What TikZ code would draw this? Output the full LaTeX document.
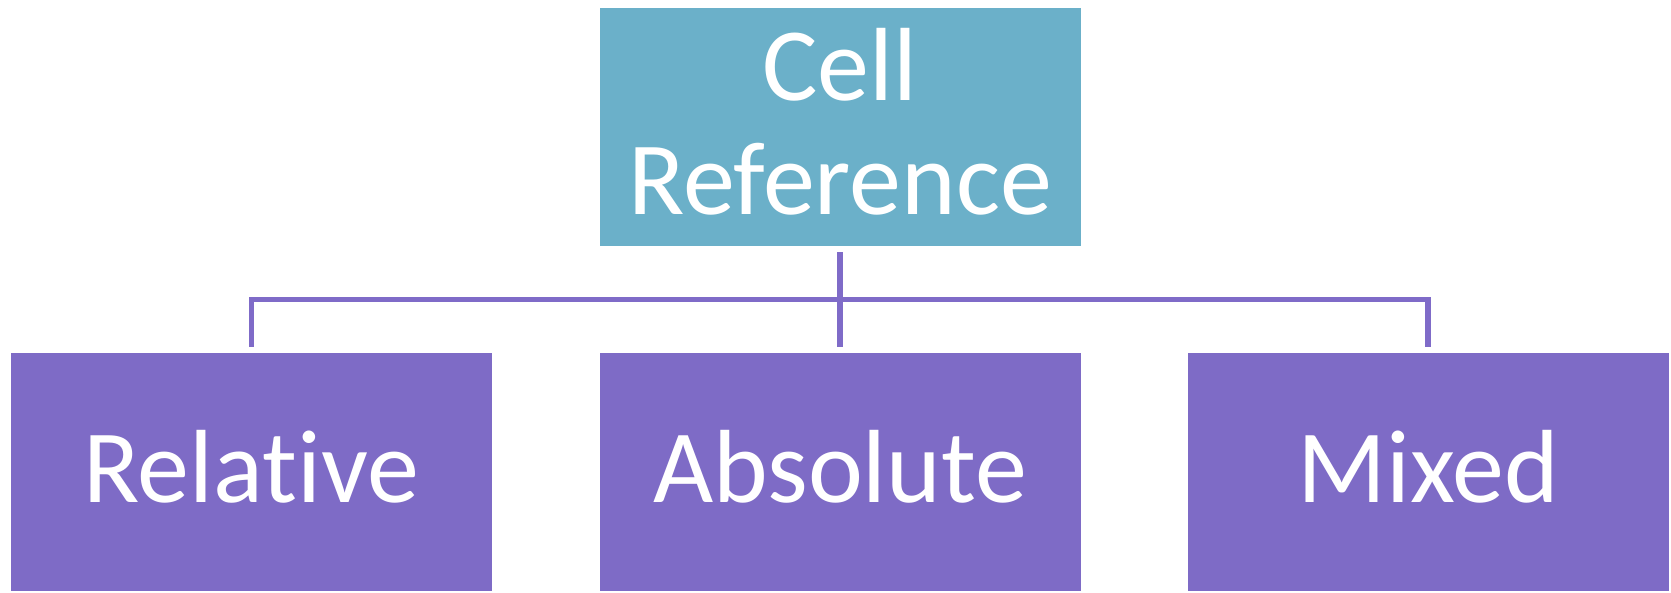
\documentclass[tikz,border=0pt]{standalone}
\usepackage{fontspec}
\setmainfont[Ligatures={NoCommon,NoRare}]{Carlito}
\definecolor{topfill}{RGB}{107,176,201}
\definecolor{boxfill}{RGB}{126,107,198}
\definecolor{linecol}{RGB}{127,107,200}
\begin{document}
\begin{tikzpicture}[x=1pt,y=-1pt,
  box/.style={fill=boxfill,draw=none,minimum width=481pt,minimum height=238pt,inner sep=0pt},
  topbox/.style={box,fill=topfill},
  lbl/.style={text=white,font=\fontsize{104}{114}\selectfont,align=center,inner sep=0pt},
  conn/.style={draw=linecol,line width=5.5pt}]
\useasboundingbox (0,0) rectangle (1671,592);
\node[topbox] (top) at (840,127) {};
\node[box] (rel) at (251,472) {};
\node[box] (abs) at (840,472) {};
\node[box] (mix) at (1428,472) {};
\node[lbl] (toplbl) at ([yshift=5pt]top.center) {Cell\\Reference};
\node[lbl] (rellbl) at ([yshift=5pt]rel.center) {Relative};
\node[lbl] (abslbl) at ([yshift=5pt]abs.center) {Absolute};
\node[lbl] (mixlbl) at ([yshift=5pt]mix.center) {Mixed};
\coordinate (hub) at (840,299.5);
\draw[conn] ([yshift=-6pt]top.south) -- ([yshift=6pt]abs.north);
\draw[conn] ([yshift=6pt]rel.north -| 251.5,0) |- (hub) -| ([yshift=6pt]mix.north);
\end{tikzpicture}
\end{document}
